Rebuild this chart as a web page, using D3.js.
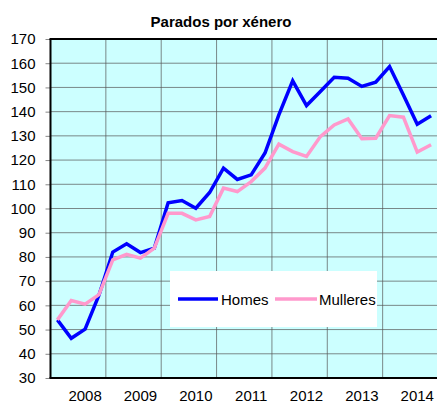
<!DOCTYPE html>
<html><head><meta charset="utf-8">
<script src="https://cdn.jsdelivr.net/npm/d3@7"></script>
<style>body{margin:0;background:#fff;}svg{display:block;}</style>
</head><body>
<svg id="c" width="437" height="403"></svg>
<script>
const years = ["2008","2009","2010","2011","2012","2013","2014"];
const quarters = ["T1","T2","T3","T4"];
const homes = [54,46.4,50.2,64.2,82,85.4,81.8,83.6,102.4,103.3,100.1,106.6,116.7,112,113.9,122.9,138.7,152.7,142.5,148.3,154.2,153.8,150.4,152.2,158.6,146.9,134.8,138.3];
const mulleres = [54,62,60.5,64.4,78.8,81.1,79.5,83.6,98,98,95.3,96.7,108.4,107,111.1,116.7,126.6,123.5,121.5,129.7,134.5,137,128.8,129,138.4,137.7,123.3,126.3];
const yTicks = [30,40,50,60,70,80,90,100,110,120,130,140,150,160,170];
const seriesNames = ["Homes","Mulleres"];
const colors = ["#0000FF","#FF99CC"];

const FONT = "Liberation Sans, Arial, sans-serif";
const cats = [];
years.forEach(y => quarters.forEach(q => cats.push(y + q)));

const svg = d3.select("#c");
const L = 50.5, R = 438, T = 39, B = 378;
const x = d3.scaleBand().domain(cats).range([L, R]);
const y = d3.scaleLinear().domain([30,170]).range([B, T]);

// background
svg.append("rect").attr("x", L).attr("y", T).attr("width", R-L).attr("height", B-T).attr("fill", "#CCFFFF");

// horizontal gridlines
svg.append("g").selectAll("line").data(yTicks.slice(1)).join("line")
  .attr("x1", L).attr("x2", R).attr("y1", d => y(d)).attr("y2", d => y(d))
  .attr("stroke", "#555").attr("stroke-opacity", 0.7).attr("stroke-width", 1);

// vertical gridlines at year boundaries
const bounds = years.slice(1).map(yr => x(yr + "T1"));
svg.append("g").selectAll("line").data(bounds).join("line")
  .attr("x1", d => d).attr("x2", d => d).attr("y1", T).attr("y2", B)
  .attr("stroke", "#555").attr("stroke-opacity", 0.7).attr("stroke-width", 1);

// y axis
const yAxis = d3.axisLeft(y).tickValues(yTicks).tickSize(5).tickPadding(10);
const ga = svg.append("g").attr("transform", `translate(${L},0)`).call(yAxis);
ga.select(".domain").remove();
ga.selectAll(".tick line").attr("stroke", "#888");
ga.selectAll("text").attr("font-family", FONT).attr("font-size", 15).attr("fill", "#000");

// x labels
const xAxis = d3.axisBottom(x).tickValues(years.map(yr => yr + "T3")).tickFormat(d => d.slice(0,4)).tickSize(0).tickPadding(12);
const gx = svg.append("g").attr("transform", `translate(0,${B})`).call(xAxis);
gx.select(".domain").remove();
gx.selectAll("text").attr("font-family", FONT).attr("font-size", 15).attr("fill", "#000");

// borders
svg.append("line").attr("x1", L-1).attr("x2", R).attr("y1", T).attr("y2", T).attr("stroke", "#000").attr("stroke-width", 2);
svg.append("line").attr("x1", L).attr("x2", L).attr("y1", T).attr("y2", B).attr("stroke", "#000").attr("stroke-width", 2);
svg.append("line").attr("x1", L-1).attr("x2", R).attr("y1", B).attr("y2", B).attr("stroke", "#000").attr("stroke-width", 2);

// lines (pink drawn on top)
const line = d3.line().x((d,i) => x(cats[i]) + x.bandwidth()/2).y(d => y(d));
[homes, mulleres].forEach((s, i) => {
  svg.append("path").datum(s).attr("d", line).attr("fill", "none")
    .attr("stroke", colors[i]).attr("stroke-width", 3.5).attr("stroke-linejoin", "miter");
});

// legend
const lg = svg.append("g");
lg.append("rect").attr("x", 170).attr("y", 271).attr("width", 207).attr("height", 56).attr("fill", "#fff");
const items = [{x1:178, x2:218, tx:221}, {x1:275, x2:317, tx:319}];
items.forEach((it, i) => {
  lg.append("line").attr("x1", it.x1).attr("x2", it.x2).attr("y1", 299).attr("y2", 299)
    .attr("stroke", colors[i]).attr("stroke-width", 3.5);
  lg.append("text").attr("x", it.tx).attr("y", 304.5).text(seriesNames[i])
    .attr("font-family", FONT).attr("font-size", 15).attr("fill", "#000");
});

// title
svg.append("text").attr("x", 221).attr("y", 27).attr("text-anchor", "middle")
  .attr("font-family", FONT).attr("font-weight", "bold").attr("font-size", 15)
  .text("Parados por xénero");
</script>
</body></html>
